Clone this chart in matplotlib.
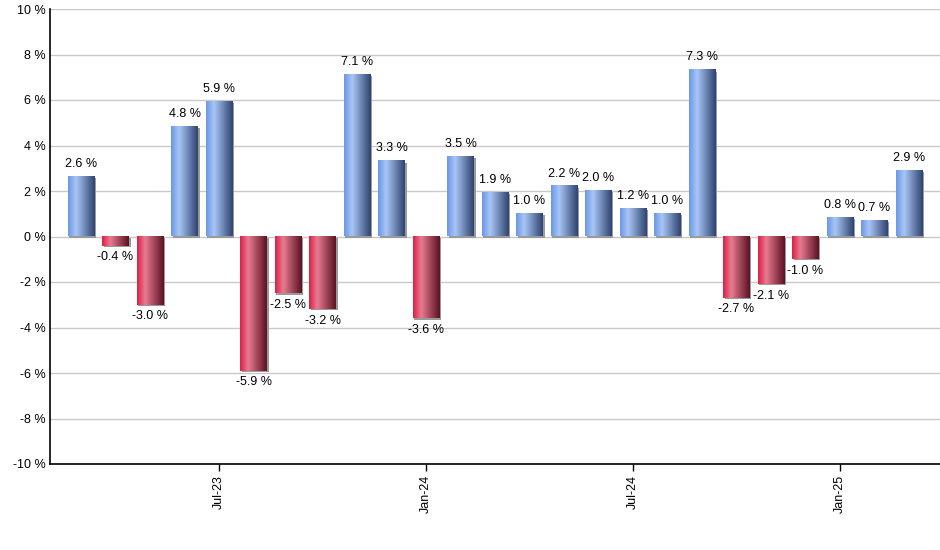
import matplotlib
matplotlib.use("Agg")
import matplotlib.pyplot as plt
import numpy as np
from matplotlib.colors import LinearSegmentedColormap
from matplotlib.patches import Rectangle

plt.rcParams['font.family'] = ['Liberation Sans', 'DejaVu Sans']

# monthly returns, Mar-23 .. Mar-25
months = ['Mar-23', 'Apr-23', 'May-23', 'Jun-23', 'Jul-23', 'Aug-23', 'Sep-23', 'Oct-23',
          'Nov-23', 'Dec-23', 'Jan-24', 'Feb-24', 'Mar-24', 'Apr-24', 'May-24', 'Jun-24',
          'Jul-24', 'Aug-24', 'Sep-24', 'Oct-24', 'Nov-24', 'Dec-24', 'Jan-25', 'Feb-25', 'Mar-25']
returns = [2.6, -0.4, -3.0, 4.8, 5.9, -5.9, -2.5, -3.2, 7.1, 3.3, -3.6, 3.5, 1.9, 1.0,
           2.2, 2.0, 1.2, 1.0, 7.3, -2.7, -2.1, -1.0, 0.8, 0.7, 2.9]
shown_ticks = ['Jul-23', 'Jan-24', 'Jul-24', 'Jan-25']

# horizontal gradients for the bars
blue_cmap = LinearSegmentedColormap.from_list(
    "blue_grad", [(0.0, "#6a97e6"), (0.3, "#a9c6f6"), (1.0, "#2f4470")])
red_cmap = LinearSegmentedColormap.from_list(
    "red_grad", [(0.0, "#dc1f48"), (0.3, "#e97b91"), (1.0, "#5a1222")])
grad = np.linspace(0, 1, 64).reshape(1, -1)

fig = plt.figure(figsize=(9.4, 5.5), dpi=100)
ax = fig.add_axes([50 / 940, 86 / 550, 890 / 940, 455 / 550])

x = np.arange(len(returns))
width = 0.78
bars = ax.bar(x, returns, width=width, color='none', edgecolor='none', zorder=3)

for b, v in zip(bars, returns):
    x0, y0 = b.get_x(), b.get_y()
    w, h = b.get_width(), b.get_height()
    # thin gray shadow to the right / bottom
    sh = Rectangle((x0 + 0.045, min(y0, y0 + h) - 0.05), w, abs(h),
                   facecolor='#9a9a9a', edgecolor='none', zorder=2)
    ax.add_patch(sh)
    cmap = blue_cmap if v >= 0 else red_cmap
    ax.imshow(grad, cmap=cmap, aspect='auto', interpolation='bicubic',
              extent=(x0, x0 + w, min(y0, y0 + h), max(y0, y0 + h)), zorder=3)
    if v >= 0:
        ax.annotate(f"{v:.1f} %", (x0 + w / 2, v), xytext=(0, 5), textcoords='offset points',
                    ha='center', va='bottom', fontsize=9, color='black', zorder=4)
    else:
        ax.annotate(f"{v:.1f} %", (x0 + w / 2, v), xytext=(0, -4), textcoords='offset points',
                    ha='center', va='top', fontsize=9, color='black', zorder=4)

ax.set_xlim(-0.9, len(returns) - 0.1)
ax.set_ylim(-10, 10)
ax.set_yticks(np.arange(-10, 11, 2))
ax.set_yticklabels([f"{t} %" for t in range(-10, 11, 2)], fontsize=9)
ax.yaxis.grid(True, color='#c8c8c8', linewidth=1, zorder=0)
ax.set_axisbelow(True)
ax.tick_params(axis='y', length=0, pad=3)

tick_pos = [months.index(m) for m in shown_ticks]
ax.set_xticks(tick_pos)
ax.set_xticklabels(shown_ticks, rotation=90, fontsize=9)
ax.tick_params(axis='x', length=5, width=1, color='black', pad=3)

for s in ['top', 'right']:
    ax.spines[s].set_visible(False)
ax.spines['left'].set_color('black')
ax.spines['bottom'].set_color('black')
ax.spines['left'].set_linewidth(1.2)
ax.spines['bottom'].set_linewidth(1.2)

fig.savefig("out.png", dpi=100)
